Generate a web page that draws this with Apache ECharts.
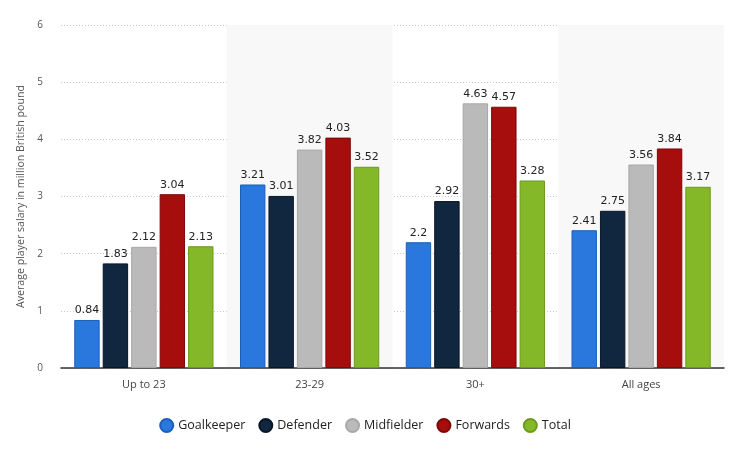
<!DOCTYPE html>
<html><head><meta charset="utf-8">
<script src="https://cdn.jsdelivr.net/npm/echarts@6/dist/echarts.min.js"></script>
<style>html,body{margin:0;padding:0;background:#fff}#c{width:730px;height:455px}</style>
</head><body><div id="c"></div>
<script>
const categories = ['Up to 23', '23-29', '30+', 'All ages'];
const goalkeeper = [0.84, 3.21, 2.2, 2.41];
const defender = [1.83, 3.01, 2.92, 2.75];
const midfielder = [2.12, 3.82, 4.63, 3.56];
const forwards = [3.04, 4.03, 4.57, 3.84];
const total = [2.13, 3.52, 3.28, 3.17];
const yTicks = [0, 1, 2, 3, 4, 5, 6];

const seriesDefs = [
  ['Goalkeeper', goalkeeper, '#2a78de', '#1a5fb8'],
  ['Defender', defender, '#11263f', '#0a1626'],
  ['Midfielder', midfielder, '#bababa', '#a8a8a8'],
  ['Forwards', forwards, '#a60d0d', '#7d0808'],
  ['Total', total, '#84b828', '#6d9a1e']
];
const font = '"DejaVu Sans", sans-serif';
const lfont = '"Open Sans", sans-serif';
const chart = echarts.init(document.getElementById('c'));
chart.setOption({
  animation: false,
  grid: {left: 61, right: 6, top: 25, bottom: 87},
  legend: {
    bottom: 17, left: 'center', icon: 'circle', itemWidth: 13, itemHeight: 13, itemGap: 13,
    textStyle: {fontFamily: lfont, fontSize: 12.5, color: '#222'}
  },
  xAxis: {
    type: 'category', data: categories,
    axisLine: {lineStyle: {color: '#333', width: 1.5}},
    axisTick: {show: false},
    axisLabel: {fontFamily: lfont, fontSize: 11, color: '#444', margin: 11},
    splitArea: {show: true, areaStyle: {color: ['rgba(255,255,255,0)', '#f8f8f8']}}
  },
  yAxis: {
    type: 'value', min: yTicks[0], max: yTicks[yTicks.length - 1], interval: 1,
    name: 'Average player salary in million British pound',
    nameLocation: 'middle', nameGap: 27, nameRotate: 90,
    nameTextStyle: {fontFamily: lfont, fontSize: 10.6, color: '#555'},
    axisLine: {show: false}, axisTick: {show: false},
    axisLabel: {fontFamily: lfont, fontSize: 10, color: '#555', margin: 18},
    splitLine: {lineStyle: {color: '#c8c8c8', type: [1, 2]}}
  },
  series: seriesDefs.map(([name, data, color, border]) => ({
    name, type: 'bar', data,
    barGap: '12%', barCategoryGap: '16%',
    itemStyle: {color, borderColor: border, borderWidth: 1},
    label: {show: true, position: 'top', distance: 4, fontFamily: font, fontSize: 11, color: '#222'}
  }))
});
</script></body></html>
